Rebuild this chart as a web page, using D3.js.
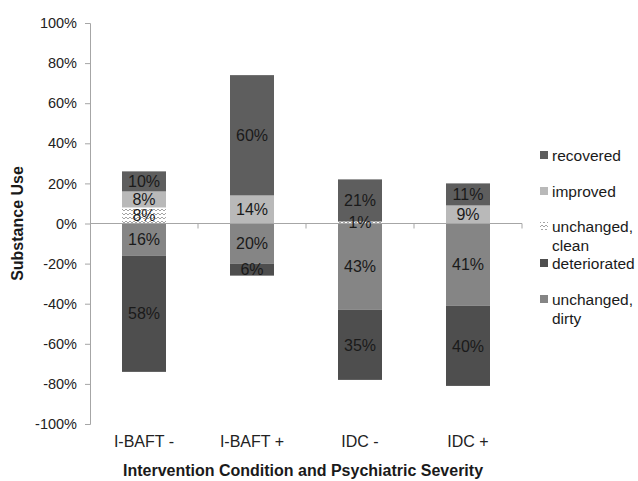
<!DOCTYPE html>
<html>
<head>
<meta charset="utf-8">
<script src="https://cdn.jsdelivr.net/npm/d3@7"></script>
<style>
  body { margin: 0; background: #fff; }
  svg { display: block; font-family: "Liberation Sans", Arial, sans-serif; }
</style>
</head>
<body>
<svg id="chart" width="638" height="481"></svg>
<script>
// Groups: intervention condition × psychiatric severity
const categories = ["I-BAFT -", "I-BAFT +", "IDC -", "IDC +"];

// Outcome shares (%). Positive outcomes stack upward, negative outcomes downward.
const unchangedClean = [8, 0, 1, 0];
const improved       = [8, 14, 0, 9];
const recovered      = [10, 60, 21, 11];
const unchangedDirty = [16, 20, 43, 41];
const deteriorated   = [58, 6, 35, 40];

const yTicks = [-100, -80, -60, -40, -20, 0, 20, 40, 60, 80, 100];

const seriesKeys = ["unchangedClean", "improved", "recovered", "unchangedDirty", "deteriorated"];
const seriesNames = {
  recovered: "recovered",
  improved: "improved",
  unchangedClean: "unchanged, clean",
  deteriorated: "deteriorated",
  unchangedDirty: "unchanged, dirty"
};
const legendOrder = ["recovered", "improved", "unchangedClean", "deteriorated", "unchangedDirty"];
const fills = {
  recovered: "#5e5e5e",
  improved: "#b9b9b9",
  unchangedClean: "url(#zigzag)",
  deteriorated: "#4e4e4e",
  unchangedDirty: "#858585"
};

const rows = categories.map((c, i) => ({
  cat: c,
  unchangedClean: unchangedClean[i],
  improved: improved[i],
  recovered: recovered[i],
  unchangedDirty: -unchangedDirty[i],
  deteriorated: -deteriorated[i]
}));

const svg = d3.select("#chart");
const plotLeft = 90, plotRight = 522, plotTop = 23, plotBottom = 424;

// Zigzag hatch for "unchanged, clean"
const defs = svg.append("defs");
const pat = defs.append("pattern")
  .attr("id", "zigzag").attr("patternUnits", "userSpaceOnUse")
  .attr("width", 4).attr("height", 4);
pat.append("rect").attr("width", 4).attr("height", 4).attr("fill", "#ffffff");
pat.append("path").attr("d", "M0,3 L2,1 L4,3")
  .attr("fill", "none").attr("stroke", "#9a9a9a").attr("stroke-width", 0.9);

const x = d3.scaleBand().domain(categories).range([plotLeft, plotRight]).paddingInner(0).paddingOuter(0);
const y = d3.scaleLinear().domain([-100, 100]).range([plotBottom, plotTop]);
const barW = 44;

const stack = d3.stack().keys(seriesKeys).offset(d3.stackOffsetDiverging);
const stacked = stack(rows);

// Bars
const gBars = svg.append("g");
stacked.forEach(layer => {
  const key = layer.key;
  gBars.selectAll(null).data(layer.filter(d => d[1] !== d[0]))
    .enter().append("rect")
    .attr("x", d => x(d.data.cat) + x.bandwidth() / 2 - barW / 2)
    .attr("width", barW)
    .attr("y", d => y(Math.max(d[0], d[1])))
    .attr("height", d => Math.abs(y(d[0]) - y(d[1])))
    .attr("fill", fills[key]);
});

// Y axis
const yAxis = d3.axisLeft(y).tickValues(yTicks).tickFormat(d => d + "%").tickSize(5).tickPadding(8);
const gy = svg.append("g").attr("transform", `translate(${plotLeft},0)`).call(yAxis);
gy.select(".domain").attr("stroke", "#a6a6a6");
gy.selectAll(".tick line").attr("stroke", "#a6a6a6");
gy.selectAll(".tick text").attr("fill", "#222").style("font-size", "14.5px")
  .style("font-family", "'Liberation Sans', Arial, sans-serif");

// Zero baseline with category separator ticks
const gx = svg.append("g");
gx.append("line").attr("x1", plotLeft).attr("x2", plotRight).attr("y1", y(0)).attr("y2", y(0))
  .attr("stroke", "#a6a6a6");
const sepX = categories.map(c => x(c)).concat([plotRight]);
gx.selectAll(".sep").data(sepX.slice(1)).enter().append("line")
  .attr("x1", d => d).attr("x2", d => d)
  .attr("y1", y(0)).attr("y2", y(0) + 5).attr("stroke", "#a6a6a6");

// Category labels
svg.append("g").selectAll("text").data(categories).enter().append("text")
  .attr("x", d => x(d) + x.bandwidth() / 2)
  .attr("y", 447)
  .attr("text-anchor", "middle")
  .attr("fill", "#222").style("font-size", "16px")
  .text(d => d);

// Segment value labels
const gLab = svg.append("g");
stacked.forEach(layer => {
  gLab.selectAll(null).data(layer.filter(d => d[1] !== d[0]))
    .enter().append("text")
    .attr("x", d => x(d.data.cat) + x.bandwidth() / 2)
    .attr("y", d => (y(d[0]) + y(d[1])) / 2)
    .attr("dy", "0.36em")
    .attr("text-anchor", "middle")
    .attr("fill", "#1a1a1a").style("font-size", "16px")
    .text(d => Math.abs(d.data[layer.key]) + "%");
});

// Axis titles
svg.append("text")
  .attr("transform", `translate(23,${y(0)}) rotate(-90)`)
  .attr("text-anchor", "middle")
  .attr("fill", "#1a1a1a").style("font-size", "16px").style("font-weight", "bold")
  .text("Substance Use");
svg.append("text")
  .attr("x", 303).attr("y", 476)
  .attr("text-anchor", "middle")
  .attr("fill", "#1a1a1a").style("font-size", "16px").style("font-weight", "bold")
  .text("Intervention Condition and Psychiatric Severity");

// Legend
const legendY = { recovered: 155, improved: 191, unchangedClean: 226, deteriorated: 263, unchangedDirty: 299 };
const gLeg = svg.append("g");
legendOrder.forEach(k => {
  const cy = legendY[k];
  gLeg.append("rect").attr("x", 540).attr("y", cy - 4).attr("width", 8).attr("height", 8)
    .attr("fill", fills[k]);
  const t = gLeg.append("text").attr("x", 552).attr("y", cy).attr("dy", "0.36em")
    .attr("fill", "#1a1a1a").style("font-size", "15.5px");
  if (seriesNames[k].includes(",")) {
    const parts = seriesNames[k].split(", ");
    t.append("tspan").attr("x", 552).text(parts[0] + ",");
    t.append("tspan").attr("x", 552).attr("dy", "1.25em").text(parts[1]);
  } else {
    t.text(seriesNames[k]);
  }
});
</script>
</body>
</html>
